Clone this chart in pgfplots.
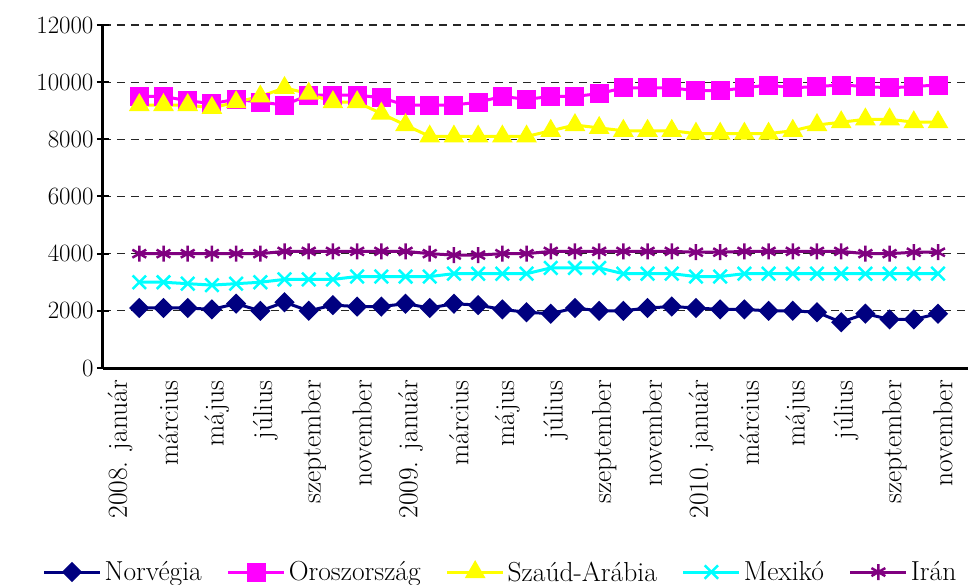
\documentclass[border=0pt]{standalone}
\usepackage{pgfplots}
\pgfplotsset{compat=1.18}
\usepackage{pgfplotstable}

\definecolor{norv}{RGB}{0,0,128}
\definecolor{orosz}{RGB}{255,0,255}
\definecolor{szaud}{RGB}{255,255,0}
\definecolor{mexi}{RGB}{0,255,255}
\definecolor{iran}{RGB}{128,0,128}
\newcommand\bigf{\fontsize{27.5}{32}\selectfont}

% k = month slot (0 = 2008. január)
\pgfplotstableread{
k nor rus sau mex iran
1 2100 9500 9200 3000 4000
2 2100 9500 9200 3000 4000
3 2100 9350 9200 2950 4000
4 2050 9250 9100 2900 4000
5 2250 9400 9300 2950 4000
6 2000 9300 9500 3000 4000
7 2300 9200 9800 3100 4080
8 2000 9550 9600 3100 4080
9 2200 9550 9300 3100 4080
10 2150 9550 9300 3200 4080
11 2150 9450 8900 3200 4080
12 2250 9200 8500 3200 4080
13 2100 9200 8100 3200 4000
14 2250 9200 8100 3300 3950
15 2200 9300 8100 3300 3950
16 2050 9500 8100 3300 4000
17 1950 9400 8100 3300 4000
18 1900 9500 8300 3500 4080
19 2100 9500 8500 3500 4080
20 2000 9600 8400 3500 4080
21 2000 9800 8300 3300 4080
22 2100 9800 8300 3300 4080
23 2150 9800 8300 3300 4080
24 2100 9700 8200 3200 4050
25 2050 9700 8200 3200 4050
26 2050 9800 8200 3300 4080
27 2000 9900 8200 3300 4080
28 2000 9800 8300 3300 4080
29 1950 9850 8500 3300 4080
30 1600 9900 8600 3300 4080
31 1900 9850 8700 3300 4000
32 1700 9800 8700 3300 4000
33 1700 9850 8600 3300 4050
34 1900 9900 8600 3300 4050
}\data

\begin{document}
\begin{tikzpicture}
\path[use as bounding box] (-103pt,-217pt) rectangle (865pt,368pt);
\begin{axis}[
    at={(0,0)}, anchor=south west,
    scale only axis, width=865pt, height=343pt,
    xmin=-0.5, xmax=35.24, ymin=0, ymax=12000,
    axis x line*=bottom, axis y line*=left,
    axis line style={-, line width=3pt, black},
    xtick={0,2,...,34},
    xticklabels={2008. január, március, május, július, szeptember, november,
        2009. január, március, május, július, szeptember, november,
        2010. január, március, május, július, szeptember, november},
    minor xtick={-0.5,0.5,...,35.5},
    xtick style={draw=none},
    minor x tick style={line width=2pt, black},
    minor tick length=10pt, xtick align=outside,
    ytick={0,2000,...,12000},
    ytick align=center, major tick length=12pt,
    ytick style={line width=2pt, black},
    ymajorgrids,
    y grid style={black!85, line width=1.2pt, dash pattern=on 8pt off 6pt},
    scaled y ticks=false,
    yticklabel={\pgfmathprintnumber[1000 sep={}]{\tick}},
    yticklabel style={font=\bigf},
    xticklabel style={font=\bigf, rotate=90, anchor=east, inner sep=0pt, yshift=-5pt},
    clip=false,
    legend columns=5,
    legend style={at={(0.46,-0.595)}, anchor=center, draw=none, font=\bigf,
        nodes={inner sep=3pt},
        /tikz/every even column/.append style={column sep=22pt}},
    legend image code/.code={\draw[mark repeat=2, mark phase=2]
        plot coordinates {(0pt,0pt) (28pt,0pt) (56pt,0pt)};},
    every axis plot/.append style={line width=3pt},
]
\addplot[norv, mark=diamond*, mark size=8pt, mark options={xscale=1.33, solid}]
    table[x=k, y=nor] {\data};
\addplot[orosz, mark=square*, mark size=8pt]
    table[x=k, y=rus] {\data};
\addplot[szaud, mark=triangle*, mark size=9pt]
    table[x=k, y=sau] {\data};
\addplot[mexi, mark=x, mark size=9.5pt, mark options={line width=2.5pt}]
    table[x=k, y=mex] {\data};
\addplot[iran, mark=asterisk, mark size=8pt, mark options={line width=2.5pt}]
    table[x=k, y=iran] {\data};
\legend{Norvégia, Oroszország, Szaúd-Arábia, Mexikó, Irán}
\end{axis}
\end{tikzpicture}
\end{document}
